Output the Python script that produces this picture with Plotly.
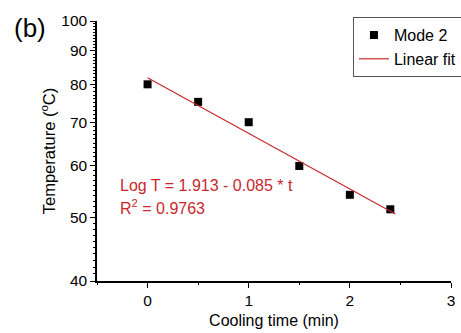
import math
import plotly.graph_objects as go

# Data
time_min = [0, 0.5, 1.0, 1.5, 2.0, 2.4]
temperature_c = [80, 75.2, 70, 60, 54.2, 51.5]
fit_intercept = 1.913
fit_slope = -0.085
fit_t = [0, 2.45]
fit_T = [10 ** (fit_intercept + fit_slope * t) for t in fit_t]

y_major = [40, 50, 60, 70, 80, 90, 100]
y_minor = [v for v in range(41, 100) if v % 10 != 0]
x_major = [0, 1, 2, 3]
x_minor = [-0.5, 0.5, 1.5, 2.5]
x_range = [-0.5, 3]
y_range = [40, 100]

RED = "#c8282d"
FONT = "Liberation Sans, Arial, sans-serif"
ylog = [math.log10(v) for v in y_range]

fig = go.Figure()
fig.add_trace(go.Scatter(x=time_min, y=temperature_c, mode="markers", name="Mode 2",
                         marker=dict(symbol="square", size=8, color="black")))
fig.add_trace(go.Scatter(x=fit_t, y=fit_T, mode="lines", name="Linear fit",
                         line=dict(color=RED, width=1.2)))
# invisible trace to carry the minor-tick axes
fig.add_trace(go.Scatter(x=[time_min[0]], y=[temperature_c[0]], xaxis="x2", yaxis="y2",
                         mode="markers", marker=dict(opacity=0), showlegend=False,
                         hoverinfo="skip"))

fig.update_layout(
    width=461, height=333,
    margin=dict(l=97, r=10, t=21, b=52, autoexpand=False),
    paper_bgcolor="white", plot_bgcolor="white",
    font=dict(family=FONT, color="black", size=15),
    showlegend=True,
    legend=dict(x=0.723, y=1.015, xanchor="left", yanchor="top",
                bordercolor="#555", borderwidth=1, bgcolor="white",
                font=dict(size=16), itemwidth=30, tracegroupgap=0),
    xaxis=dict(range=x_range, tickvals=x_major, ticks="outside", ticklen=5, tickwidth=1.2,
               tickcolor="black", showline=True, linecolor="black", linewidth=1.5,
               showgrid=False, zeroline=False, tickfont=dict(size=15.5),
               title=dict(text="Cooling time (min)", font=dict(size=16), standoff=6)),
    yaxis=dict(type="log", range=ylog, tickvals=y_major, ticks="outside", ticklen=5,
               tickwidth=1.2, tickcolor="black", showline=True, linecolor="black",
               linewidth=1.5, showgrid=False, zeroline=False, tickfont=dict(size=15.5),
               title=dict(text="Temperature (<sup>o</sup>C)", font=dict(size=16.5), standoff=2)),
    xaxis2=dict(overlaying="x", anchor="y", side="bottom", range=x_range, tickvals=x_minor,
                ticks="outside", ticklen=3, tickwidth=1, tickcolor="black",
                showticklabels=False, showgrid=False, zeroline=False, showline=False),
    yaxis2=dict(overlaying="y", anchor="x", side="left", type="log", range=ylog,
                tickvals=y_minor, ticks="outside", ticklen=3, tickwidth=1, tickcolor="black",
                showticklabels=False, showgrid=False, zeroline=False, showline=False),
)

fig.add_annotation(xref="paper", yref="paper", x=0.059, y=0.369, xanchor="left",
                   yanchor="middle", text="Log T = 1.913 - 0.085 * t", showarrow=False,
                   font=dict(size=16, color=RED))
fig.add_annotation(xref="paper", yref="paper", x=0.059, y=0.285, xanchor="left",
                   yanchor="middle", text="R<sup>2</sup> = 0.9763", showarrow=False,
                   font=dict(size=16, color=RED))
fig.add_annotation(xref="paper", yref="paper", x=-0.24, y=0.975, xanchor="left",
                   yanchor="middle", text="(b)", showarrow=False,
                   font=dict(size=26, color="black"))

fig.write_html("out.html", config={"displayModeBar": False},
               post_script="document.body.style.margin='0';")
